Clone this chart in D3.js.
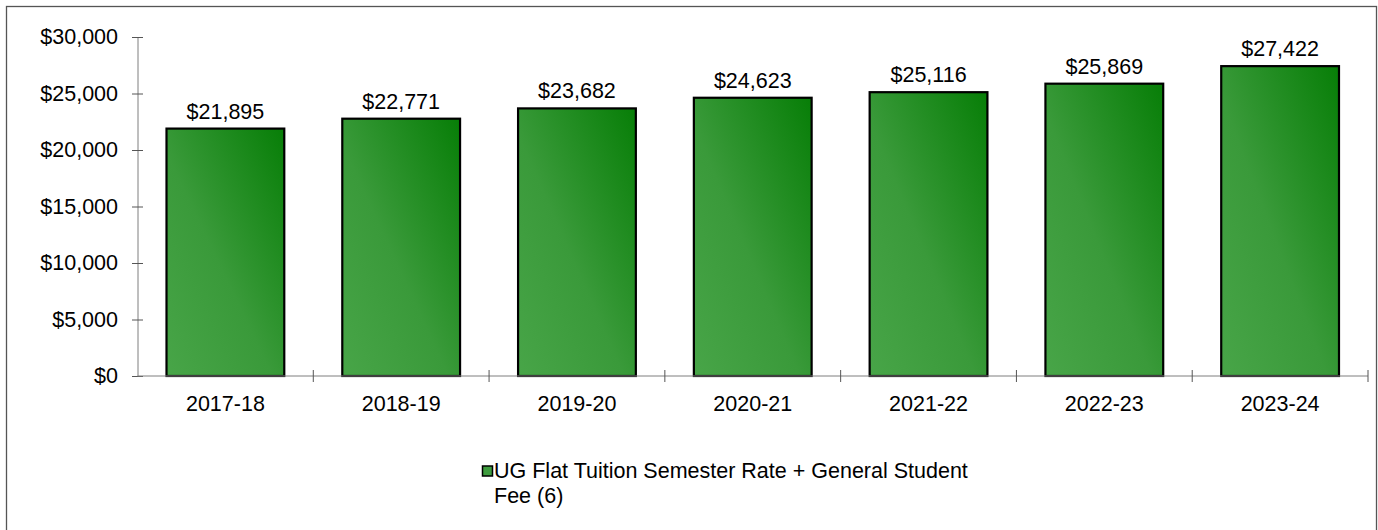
<!DOCTYPE html>
<html>
<head>
<meta charset="utf-8">
<script src="https://cdn.jsdelivr.net/npm/d3@7"></script>
<style>
  html, body { margin: 0; padding: 0; background: #fff; }
  svg { display: block; font-family: Arial, "Liberation Sans", sans-serif; }
</style>
</head>
<body>
<svg id="chart" width="1378" height="530"></svg>
<script>
const categories = ["2017-18", "2018-19", "2019-20", "2020-21", "2021-22", "2022-23", "2023-24"];
const values = [21895, 22771, 23682, 24623, 25116, 25869, 27422];
const yTicks = [0, 5000, 10000, 15000, 20000, 25000, 30000];
const seriesName = ["UG Flat Tuition Semester Rate + General Student", "Fee (6)"];

const svg = d3.select("#chart");
const W = 1378, H = 530;
const plotLeft = 137.5, plotRight = 1368, plotTop = 37, plotBottom = 376;
const FS = 21.5;

// outer frame
svg.append("rect").attr("x", 6.5).attr("y", 6.5).attr("width", W - 8).attr("height", H)
  .attr("fill", "#fff").attr("stroke", "#555").attr("stroke-width", 1.3);

const defs = svg.append("defs");
const grad = defs.append("linearGradient").attr("id", "barGrad")
  .attr("x1", 0).attr("y1", 1).attr("x2", 1).attr("y2", 0);
grad.append("stop").attr("offset", "0%").attr("stop-color", "#48a548");
grad.append("stop").attr("offset", "45%").attr("stop-color", "#3a9a3a");
grad.append("stop").attr("offset", "100%").attr("stop-color", "#077e07");

const x = d3.scaleBand().domain(categories).range([plotLeft, plotRight])
  .paddingInner(0.33).paddingOuter(0.165);
const y = d3.scaleLinear().domain([0, 30000]).range([plotBottom, plotTop]);
const fmt = v => "$" + d3.format(",")(v);

// bars
svg.append("g").selectAll("rect").data(values).join("rect")
  .attr("x", (d, i) => x(categories[i]))
  .attr("y", d => y(d))
  .attr("width", x.bandwidth())
  .attr("height", d => y(0) - y(d))
  .attr("fill", "url(#barGrad)")
  .attr("stroke", "#000").attr("stroke-width", 2.2);

// value labels
svg.append("g").selectAll("text").data(values).join("text")
  .attr("x", (d, i) => x(categories[i]) + x.bandwidth() / 2)
  .attr("y", d => y(d) - 10)
  .attr("text-anchor", "middle")
  .attr("font-size", FS).attr("fill", "#000")
  .text(fmt);

// y axis
const yAxis = svg.append("g").attr("transform", `translate(${plotLeft},0)`)
  .call(d3.axisLeft(y).tickValues(yTicks).tickFormat(fmt).tickSizeInner(5.5).tickSizeOuter(0).tickPadding(14));
yAxis.select(".domain").attr("stroke", "#7f7f7f");
yAxis.selectAll(".tick line").attr("x1", -5.5).attr("x2", 5.5).attr("stroke", "#555");
yAxis.selectAll(".tick text").attr("font-size", FS).attr("fill", "#000")
  .attr("font-family", "Arial, 'Liberation Sans', sans-serif");

// x axis
const step = x.step();
const boundaries = d3.range(categories.length + 1).map(i => plotLeft + i * step);
const xg = svg.append("g");
xg.append("line").attr("x1", plotLeft).attr("x2", plotRight).attr("y1", plotBottom).attr("y2", plotBottom)
  .attr("stroke", "#7f7f7f");
xg.selectAll("line.tk").data(boundaries.slice(1)).join("line").attr("class", "tk")
  .attr("x1", d => d).attr("x2", d => d).attr("y1", plotBottom - 6).attr("y2", plotBottom + 6)
  .attr("stroke", "#555");
xg.selectAll("text").data(categories).join("text")
  .attr("x", d => x(d) + x.bandwidth() / 2)
  .attr("y", plotBottom + 35)
  .attr("text-anchor", "middle")
  .attr("font-size", FS).attr("fill", "#000")
  .text(d => d);

// legend
const lg = svg.append("g");
lg.append("rect").attr("x", 482.5).attr("y", 466).attr("width", 10).attr("height", 10)
  .attr("fill", "#3e9c3e").attr("stroke", "#000").attr("stroke-width", 1.5);
lg.selectAll("text").data(seriesName).join("text")
  .attr("x", 494).attr("y", (d, i) => 478 + i * 25)
  .attr("font-size", FS).attr("fill", "#000")
  .text(d => d);
</script>
</body>
</html>
